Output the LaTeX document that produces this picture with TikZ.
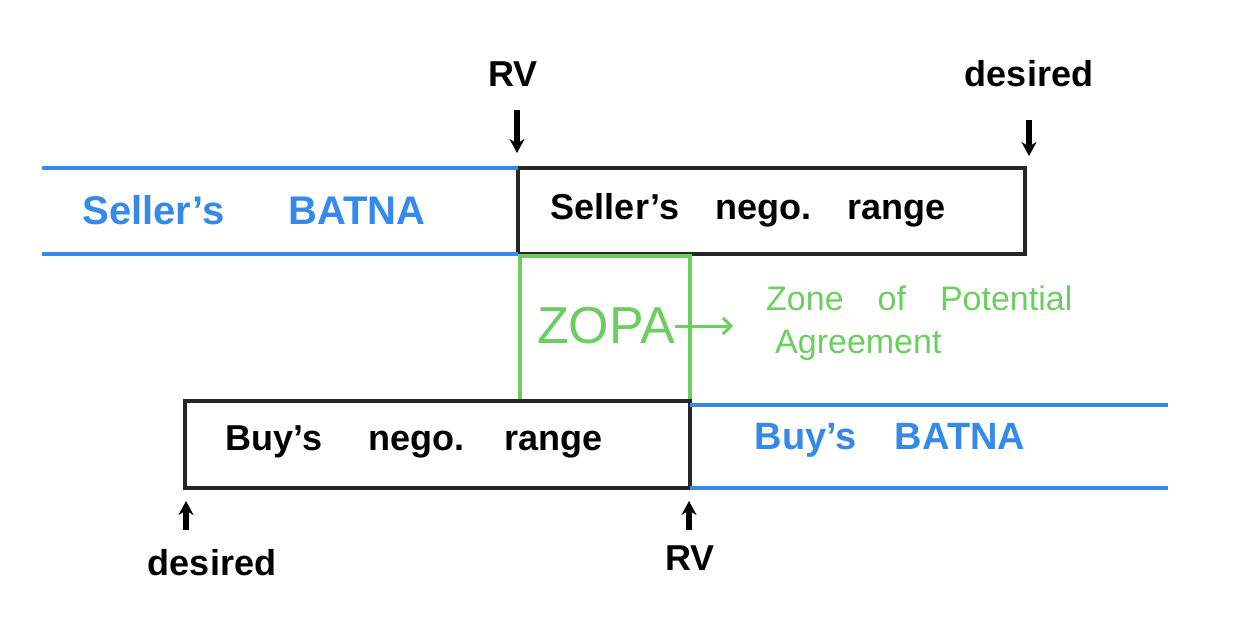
\documentclass[tikz,border=0pt]{standalone}
\usepackage{fontspec}
\setmainfont{Liberation Sans}
\usetikzlibrary{arrows.meta}
\definecolor{hblue}{RGB}{52,137,234}
\definecolor{hgreen}{RGB}{108,205,96}
\begin{document}
\begin{tikzpicture}[x=1pt,y=-1pt,
  boxline/.style={draw=black!85,line width=4.5pt,outer sep=0pt,inner sep=0pt,anchor=north west},
  blueline/.style={draw=hblue,line width=4.5pt},
  zopabox/.style={draw=hgreen,line width=3.5pt,outer sep=0pt,inner sep=0pt,anchor=north west},
  lbl/.style={font=\fontsize{36}{36}\bfseries\selectfont,inner sep=0pt},
  blbl/.style={font=\fontsize{40}{40}\bfseries\selectfont,inner sep=0pt,text=hblue},
  glbl/.style={font=\fontsize{34}{34}\selectfont,text=hgreen,inner sep=0pt,align=left},
  marker/.style={font=\fontsize{36}{36}\bfseries\selectfont,inner sep=0pt},
  pointer/.style={-{Stealth[length=14pt,width=15pt]},line width=5.5pt}]
\useasboundingbox (0,0) rectangle (1233,628);
% seller
\node[boxline,minimum width=507pt,minimum height=86pt] (sbox) at (518,168) {};
\coordinate (sbl1) at (42,168);
\coordinate (sbl2) at (42,254);
\draw[blueline] (sbl1) -- (sbox.north west);
\draw[blueline] (sbl2) -- (sbox.south west);
\node[blbl] (sbatna) at (254,210) {Seller's\hspace{1.6em}BATNA};
\node[lbl] (snego) at (748,210) {Seller's\quad nego.\quad range};
% ZOPA
\node[zopabox,minimum width=170pt,minimum height=145pt] (zopa) at (520,256) {};
\node[font=\fontsize{52}{52}\selectfont,text=hgreen,inner sep=0pt] (zopat) at (606,326) {ZOPA};
\node[glbl,anchor=west] (zone) at (766,298) {Zone\quad of\quad Potential};
\node[glbl,anchor=west] (agree) at (775,345) {Agreement};
\draw[hgreen,line width=3pt,-{Straight Barb[length=8pt,width=16pt]}] (zopat.east) -- ++(58,0) coordinate (zend);
% buyer
\node[boxline,minimum width=505pt,minimum height=87pt] (bbox) at (185,401) {};
\coordinate (bbl1) at (1168,405);
\coordinate (bbl2) at (1168,488);
\draw[blueline] (bbox.east |- bbl1) -- (bbl1);
\draw[blueline] (bbox.south east) -- (bbl2);
\node[lbl] (bnego) at (414,442) {Buy's\hspace{1.3em}nego.\hspace{1.1em}range};
\node[blbl,font=\fontsize{38}{38}\bfseries\selectfont] (bbatna) at (890,440) {Buy's\quad BATNA};
% markers top
\node[marker] (rvtop) at (513,74) {RV};
\node[marker] (destop) at (1029,74) {desired};
\draw[pointer] (517,110) -- (517,153);
\draw[pointer] (1029,120) -- (1029,156);
% markers bottom
\node[marker] (desbot) at (212,563) {desired};
\node[marker] (rvbot) at (690,558) {RV};
\draw[pointer] (186,530) -- (186,501);
\draw[pointer] (689,530) -- (689,501);
\end{tikzpicture}
\end{document}
